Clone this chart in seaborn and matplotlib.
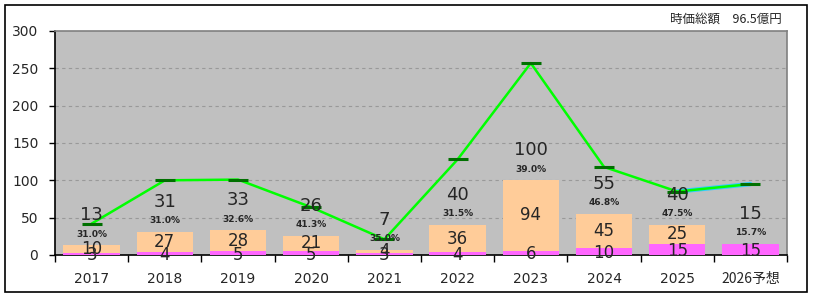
import matplotlib
matplotlib.use('Agg')
import matplotlib.pyplot as plt
import seaborn as sns
import numpy as np
import pandas as pd
from matplotlib.patches import Rectangle

years = ['2017', '2018', '2019', '2020', '2021', '2022', '2023', '2024', '2025', '2026予想']
pink_vals = [3, 4, 5, 5, 3, 4, 6, 10, 15, 15]
orange_vals = [10, 27, 28, 21, 4, 36, 94, 45, 25, 0]
totals = [13, 31, 33, 26, 7, 40, 100, 55, 40, 15]
pct_labels = ['31.0%', '31.0%', '32.6%', '41.3%', '35.0%', '31.5%', '39.0%', '46.8%', '47.5%', '15.7%']
line_vals = [42, 100, 101, 64, 21, 128, 257, 118, 85, 95]
title_text = '時価総額　96.5億円'

df = pd.DataFrame({'year': years, 'pink': pink_vals, 'orange': orange_vals, 'total': totals})

sns.set_style('white')
plt.rcParams['font.family'] = ['Noto Sans CJK JP', 'DejaVu Sans']

fig = plt.figure(figsize=(8.14, 2.98), dpi=100)
ax = fig.add_axes([55 / 814, 43 / 298, 732 / 814, 224 / 298])
ax.set_facecolor('#C0C0C0')

# outer frame
fig.patches.append(Rectangle((5 / 814, 6 / 298), 802 / 814, 287 / 298, transform=fig.transFigure,
                             fill=False, edgecolor='black', linewidth=1.2))

# grid
for g in [50, 100, 150, 200, 250]:
    ax.axhline(g, color='#999999', linestyle=(0, (3, 3)), linewidth=0.8, zorder=0)

# stacked bars: total (orange) then pink bottom on top
sns.barplot(data=df, x='year', y='total', color='#FFCC99', width=0.77, saturation=1,
            linewidth=0, ax=ax, zorder=2)
sns.barplot(data=df, x='year', y='pink', color='#FF66FF', width=0.77, saturation=1,
            linewidth=0, ax=ax, zorder=3)

xs = np.arange(len(years))
# forecast segment (cyan) under main line
ax.plot(xs[-2:], line_vals[-2:], color='#33CCFF', linewidth=3.2, zorder=4)
sns.lineplot(x=xs, y=line_vals, color='#00FF00', linewidth=1.8, ax=ax, zorder=5)
ax.plot(xs, line_vals, linestyle='none', marker='_', markersize=14, markeredgewidth=2.2,
        color='#007000', zorder=6)

for i in range(len(years)):
    ax.text(i, totals[i] + 40, str(totals[i]), ha='center', va='center', fontsize=13,
            family='DejaVu Sans', zorder=7)
    ax.text(i, totals[i] + 15, pct_labels[i], ha='center', va='center', fontsize=6.5,
            family='DejaVu Sans', fontweight='bold', zorder=7)
    if orange_vals[i] > 0:
        ax.text(i, pink_vals[i] + orange_vals[i] / 2, str(orange_vals[i]), ha='center', va='center',
                fontsize=12, family='DejaVu Sans', zorder=7)
    ax.text(i, pink_vals[i] / 2 - 2, str(pink_vals[i]), ha='center', va='center', fontsize=12,
            family='DejaVu Sans', zorder=7)

ax.set_xlim(-0.5, len(years) - 0.5)
ax.set_ylim(0, 300)
ax.set_yticks([0, 50, 100, 150, 200, 250, 300])
ax.set_xlabel('')
ax.set_ylabel('')
ax.tick_params(axis='y', length=4, width=1, color='black', labelsize=10, pad=8, left=True)
ax.tick_params(axis='x', which='major', length=0, labelsize=10, pad=12)
ax.set_xticks(np.arange(-0.5, len(years), 1.0), minor=True)
ax.tick_params(axis='x', which='minor', length=5, width=1, color='black', bottom=True)
for lbl in ax.get_yticklabels() + ax.get_xticklabels():
    lbl.set_family(['DejaVu Sans', 'Noto Sans CJK JP'])
ax.get_xticklabels()[-1].set_family(['Noto Sans CJK JP'])

ax.spines['left'].set_color('black')
ax.spines['bottom'].set_color('black')
ax.spines['top'].set_color('#808080')
ax.spines['right'].set_color('#808080')
for s in ax.spines.values():
    s.set_linewidth(1.2)
    s.set_visible(True)

fig.text(782 / 814, 1 - 19 / 298, title_text, ha='right', va='center', fontsize=9)

fig.savefig('out.png', dpi=100)
